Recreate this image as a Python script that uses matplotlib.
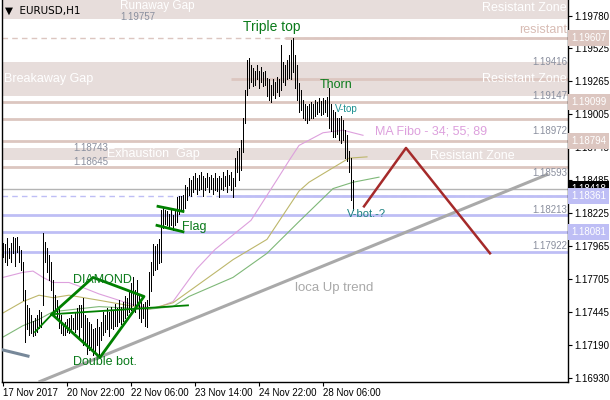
import matplotlib
matplotlib.use("Agg")
import matplotlib.pyplot as plt
import matplotlib.transforms as mtrans

plt.rcParams['font.family'] = ['Liberation Sans', 'DejaVu Sans']

# EURUSD H1 bars (high / low), first bar 17 Nov 2017 14:00
highs = [
    1.1799, 1.1798, 1.1803, 1.1795, 1.1799, 1.1804, 1.1803, 1.1804, 1.1797, 1.1794,
    1.1784, 1.1762, 1.1750, 1.1748, 1.1742, 1.1738, 1.1740, 1.1742, 1.1746, 1.1745,
    1.1807, 1.1800, 1.1795, 1.1790, 1.1784, 1.1770, 1.1758, 1.1754, 1.1748, 1.1742,
    1.1736, 1.1737, 1.1739, 1.1740, 1.1742, 1.1740, 1.1744, 1.1748, 1.1750, 1.1750,
    1.1756, 1.1742, 1.1740, 1.1737, 1.1735, 1.1731, 1.1732, 1.1739, 1.1733, 1.1737,
    1.1745, 1.1742, 1.1748, 1.1745, 1.1749, 1.1746, 1.1751, 1.1748, 1.1754, 1.1749,
    1.1753, 1.1757, 1.1756, 1.1762, 1.1768, 1.1772, 1.1762, 1.1770, 1.1757, 1.1754,
    1.1751, 1.1753, 1.1754, 1.1776, 1.1784, 1.1798, 1.1797, 1.1798, 1.1802, 1.1825,
    1.1827, 1.1825, 1.1824, 1.1822, 1.1825, 1.1821, 1.1824, 1.1835, 1.1836, 1.1836,
    1.1837, 1.1845, 1.1843, 1.1850, 1.1849, 1.1852, 1.1854, 1.1850, 1.1853, 1.1855,
    1.1852, 1.1850, 1.1854, 1.1851, 1.1853, 1.1850, 1.1854, 1.1850, 1.1852, 1.1850,
    1.1855, 1.1852, 1.1857, 1.1853, 1.1855, 1.1850, 1.1866, 1.1872, 1.1874, 1.1880,
    1.1898, 1.1920, 1.1943, 1.1945, 1.1939, 1.1937, 1.1935, 1.1939, 1.1935, 1.1938,
    1.1934, 1.1935, 1.1929, 1.1928, 1.1924, 1.1928, 1.1926, 1.1930, 1.1928, 1.1955,
    1.1942, 1.1939, 1.1943, 1.1947, 1.1959, 1.1961, 1.1947, 1.1939, 1.1925, 1.1920,
    1.1912, 1.1909, 1.1907, 1.1909, 1.1910, 1.1909, 1.1912, 1.1910, 1.1913, 1.1911,
    1.1913, 1.1912, 1.1914, 1.1921, 1.1909, 1.1904, 1.1902, 1.1898, 1.1898, 1.1899,
    1.1896, 1.1888, 1.1884, 1.1872, 1.1866, 1.1849,
]
lows = [
    1.1788, 1.1784, 1.1782, 1.1787, 1.1784, 1.1791, 1.1781, 1.1792, 1.1784, 1.1778,
    1.1754, 1.1721, 1.1731, 1.1727, 1.1728, 1.1726, 1.1727, 1.1729, 1.1732, 1.1733,
    1.1750, 1.1784, 1.1776, 1.1770, 1.1762, 1.1745, 1.1746, 1.1740, 1.1732, 1.1728,
    1.1727, 1.1727, 1.1729, 1.1728, 1.1731, 1.1731, 1.1729, 1.1731, 1.1724, 1.1733,
    1.1719, 1.1720, 1.1712, 1.1715, 1.1717, 1.1711, 1.1713, 1.1719, 1.1711, 1.1723,
    1.1727, 1.1729, 1.1731, 1.1726, 1.1732, 1.1731, 1.1734, 1.1734, 1.1737, 1.1735,
    1.1738, 1.1740, 1.1742, 1.1745, 1.1746, 1.1750, 1.1745, 1.1750, 1.1740, 1.1737,
    1.1740, 1.1734, 1.1733, 1.1750, 1.1761, 1.1774, 1.1778, 1.1779, 1.1783, 1.1784,
    1.1811, 1.1814, 1.1813, 1.1811, 1.1813, 1.1809, 1.1813, 1.1816, 1.1822, 1.1824,
    1.1825, 1.1827, 1.1833, 1.1837, 1.1836, 1.1839, 1.1842, 1.1838, 1.1841, 1.1842,
    1.1836, 1.1841, 1.1843, 1.1839, 1.1842, 1.1838, 1.1841, 1.1840, 1.1835, 1.1842,
    1.1841, 1.1844, 1.1839, 1.1845, 1.1841, 1.1835, 1.1844, 1.1855, 1.1849, 1.1857,
    1.1871, 1.1894, 1.1916, 1.1921, 1.1926, 1.1923, 1.1924, 1.1928, 1.1921, 1.1926,
    1.1923, 1.1924, 1.1915, 1.1912, 1.1910, 1.1916, 1.1913, 1.1918, 1.1915, 1.1920,
    1.1926, 1.1924, 1.1928, 1.1929, 1.1928, 1.1934, 1.1921, 1.1912, 1.1902, 1.1904,
    1.1898, 1.1896, 1.1894, 1.1896, 1.1898, 1.1898, 1.1899, 1.1901, 1.1902, 1.1900,
    1.1901, 1.1902, 1.1899, 1.1890, 1.1887, 1.1883, 1.1883, 1.1885, 1.1880, 1.1878,
    1.1880, 1.1866, 1.1864, 1.1855, 1.1833, 1.1825,
]

# moving averages (MA Fibo 34 / 55 / 89), read at a few bars
ma34_bar = [0, 10, 15, 20, 25, 33, 40, 48, 68, 77, 85, 97, 106, 124, 137, 143, 148, 160, 170, 180]
ma34 = [1.1772, 1.1776, 1.1777, 1.1772, 1.1768, 1.1768, 1.1764, 1.1759, 1.1749, 1.1748,
        1.1753, 1.1779, 1.1794, 1.1817, 1.1849, 1.1864, 1.1876, 1.1886, 1.1888, 1.1884]
ma55_bar = [0, 10, 18, 25, 33, 48, 73, 85, 108, 115, 132, 148, 153, 173, 182]
ma55 = [1.1744, 1.1753, 1.1758, 1.1756, 1.1758, 1.1754, 1.1747, 1.1752, 1.1778, 1.1786,
        1.1802, 1.1840, 1.1847, 1.1866, 1.1867]
ma89_bar = [0, 10, 18, 25, 48, 73, 85, 93, 115, 132, 148, 165, 175, 188]
ma89 = [1.1725, 1.1734, 1.1739, 1.1745, 1.1749, 1.1747, 1.1749, 1.1757, 1.1772, 1.1791,
        1.1816, 1.1842, 1.1847, 1.1851]

# time axis
tick_bars = [0, 32, 64, 96, 128, 160]
tick_labels = ['17 Nov 2017', '20 Nov 22:00', '22 Nov 06:00', '23 Nov 14:00',
               '24 Nov 22:00', '28 Nov 06:00']
price_ticks = [1.19780, 1.19525, 1.19265, 1.19005, 1.18745, 1.18485, 1.18225,
               1.17965, 1.17705, 1.17445, 1.17190, 1.16930]

# chart objects
gap_zones = [(1.19757, 1.19950), (1.19147, 1.19416), (1.18645, 1.18743)]
pink_levels = [1.19099, 1.18972, 1.18794, 1.18593]
blue_levels = [1.18213, 1.18081, 1.17922]
resistant_level = 1.19607
support_level = 1.18361
inner_level = 1.19280
bid = 1.18418

trend_bar = [18.5, 272]
trend_price = [1.1690, 1.1853]
old_trend_bar = [-0.5, 12.5]
old_trend_price = [1.1715, 1.1710]
diamond_bar = [24.5, 45, 70.5, 48.5, 24.5]
diamond_price = [1.1743, 1.1772, 1.1757, 1.1709, 1.1743]
axis_line_bar = [16, 24.5, 92.5]
axis_line_price = [1.1729, 1.1743, 1.1750]
flag_top_bar, flag_top_price = [77.5, 90], [1.1828, 1.1824]
flag_bot_bar, flag_bot_price = [77, 90], [1.1813, 1.1808]
forecast_bar = [180.5, 201.5, 243.5]
forecast_price = [1.1828, 1.1874, 1.1791]

PINK = '#dcc6c0'
ZONE = '#e7dddb'
BLUE = '#bebef5'
LBL = '#8a8f9e'
GREEN = '#0a7a1a'

fig = plt.figure(figsize=(6.1, 4.0), dpi=100)
ax = fig.add_axes([2 / 610, 18 / 400, 566 / 610, 382 / 400])
ax.set_xlim(-0.5, 282.5)
ax.set_ylim(1.16896, 1.19906)

for lo, hi in gap_zones:
    ax.axhspan(lo, hi, color=ZONE, lw=0, zorder=0)

ax.axhline(resistant_level, color=PINK, lw=1, ls=(0, (4, 3)), zorder=1)
ax.hlines(resistant_level, 141, 282.5, color=PINK, lw=2, zorder=1)
ax.hlines(inner_level, 114, 282.5, color=PINK, lw=2, zorder=1)
for lv in pink_levels:
    ax.axhline(lv, color=PINK, lw=2, zorder=1)
ax.axhline(support_level, color=BLUE, lw=1, ls=(0, (4, 3)), zorder=1)
ax.hlines(support_level, 108, 282.5, color=BLUE, lw=2, zorder=1)
for lv in blue_levels:
    ax.axhline(lv, color=BLUE, lw=2, zorder=1)
ax.axhline(bid, color='#b4b4b4', lw=1, zorder=1)

ax.plot(ma34_bar, ma34, color='#dda0dd', lw=0.8, zorder=2)
ax.plot(ma55_bar, ma55, color='#bdb76b', lw=0.8, zorder=2)
ax.plot(ma89_bar, ma89, color='#7fb878', lw=0.8, zorder=2)

ax.vlines(range(len(highs)), lows, highs, color='black', lw=0.72,
          antialiased=False, zorder=3)

ax.plot(trend_bar, trend_price, color='#a9a9a9', lw=2.2, zorder=4)
ax.plot(old_trend_bar, old_trend_price, color='#778899', lw=2.2, zorder=4)
ax.plot(diamond_bar, diamond_price, color='#008000', lw=2, zorder=5)
ax.plot(axis_line_bar, axis_line_price, color='#008000', lw=1.3, zorder=5)
ax.plot(flag_top_bar, flag_top_price, color='#008000', lw=2, zorder=5)
ax.plot(flag_bot_bar, flag_bot_price, color='#008000', lw=2, zorder=5)
ax.plot(forecast_bar, forecast_price, color='#a52a2a', lw=1.8, zorder=5)

# texts
def note(x, y, s, color, size, ha='left'):
    ax.text(x, y, s, color=color, fontsize=size, ha=ha, va='center', zorder=6)

note(0.5, 1.1928, 'Breakaway Gap', 'white', 9)
note(52, 1.1869, 'Exhaustion  Gap', 'white', 9)
note(58.5, 1.19855, 'Runaway Gap', 'white', 8.5)
note(58.5, 1.1977, '1.19757', LBL, 7)
note(282, 1.19845, 'Resistant Zone', 'white', 9, 'right')
note(282, 1.1928, 'Resistant Zone', 'white', 9, 'right')
note(256, 1.1868, 'Resistant Zone', 'white', 9, 'right')
note(282, 1.1967, 'resistant', '#d8bcb4', 9, 'right')
note(282, 1.19416, '1.19416', LBL, 7, 'right')
note(282, 1.19147, '1.19147', LBL, 7, 'right')
note(282, 1.18870, '1.18972', LBL, 7, 'right')
note(282, 1.18540, '1.18593', LBL, 7, 'right')
note(282, 1.18250, '1.18213', LBL, 7, 'right')
note(282, 1.17965, '1.17922', LBL, 7, 'right')
note(35, 1.18740, '1.18743', LBL, 7)
note(35, 1.18630, '1.18645', LBL, 7)
note(120, 1.1969, 'Triple top', GREEN, 10)
note(158.5, 1.1924, 'Thorn', GREEN, 9)
note(166, 1.1905, 'V-top', '#1a9090', 7)
note(172, 1.1822, 'V-bot.-?', '#1a8080', 8)
note(186, 1.1887, 'MA Fibo - 34; 55; 89', '#dda0dd', 9)
note(35, 1.1770, 'DIAMOND', GREEN, 9)
note(35, 1.1705, 'Double bot.', GREEN, 9)
note(89.5, 1.1812, 'Flag', GREEN, 9)
note(146, 1.1764, 'loca Up trend', '#a9a9a9', 9.5)
ax.text(0.006, 0.985, '\u25bc  EURUSD,H1', transform=ax.transAxes, fontsize=7.5,
        family=['DejaVu Sans'], ha='left', va='top', zorder=7)

# axes
ax.yaxis.tick_right()
ax.set_yticks(price_ticks)
ax.set_yticklabels([f'{p:.5f}' for p in price_ticks])
ax.set_xticks(tick_bars)
ax.set_xticklabels(tick_labels, ha='left')
ax.tick_params(axis='both', direction='out', length=3, width=0.8, labelsize=7, pad=1.5)
for sp in ax.spines.values():
    sp.set_linewidth(1)
ax.spines['top'].set_visible(False)

# price tags on the right scale
tr = mtrans.blended_transform_factory(ax.transAxes, ax.transData)
tags = [(1.19607, PINK), (1.19099, PINK), (1.18794, PINK), (bid, 'black'),
        (1.18361, BLUE), (1.18081, BLUE)]
for price, col in tags:
    ax.text(1.006, price, f'{price:.5f}', transform=tr, fontsize=7, color='white',
            ha='left', va='center', clip_on=False, zorder=20,
            bbox=dict(boxstyle='square,pad=0.3', fc=col, ec='none'))

fig.savefig('out.png', dpi=100)
